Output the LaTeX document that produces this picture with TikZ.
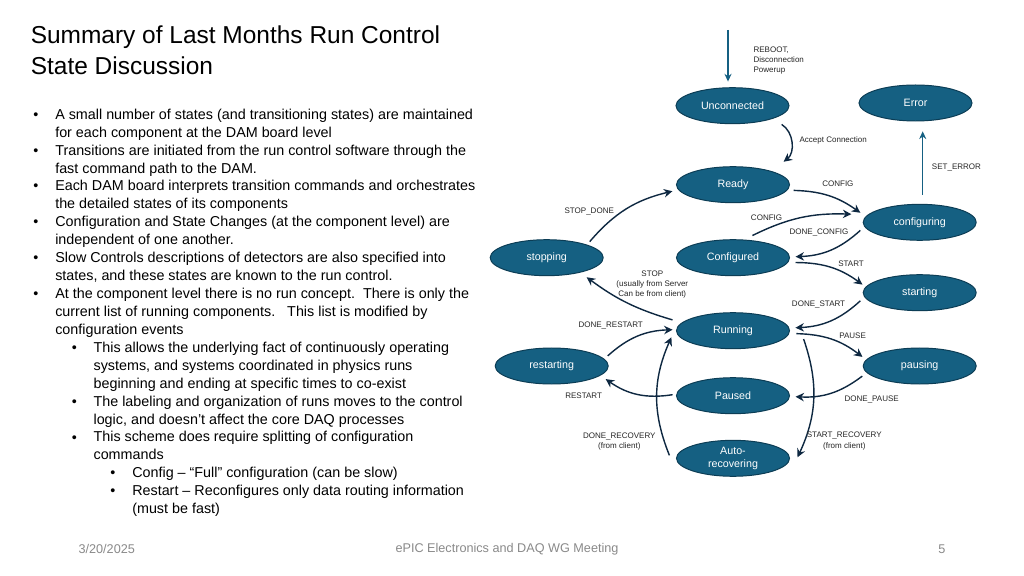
\documentclass[tikz,border=0pt]{standalone}
\usepackage{fontspec}
\setmainfont{Liberation Sans}
\usepackage{tikz}
\usetikzlibrary{positioning}
\usetikzlibrary{arrows.meta}
\usetikzlibrary{shapes.geometric}

\definecolor{statefill}{HTML}{156082}
\definecolor{stateedge}{HTML}{0C3D55}
\definecolor{transdark}{HTML}{0E2841}
\definecolor{footgray}{HTML}{8A8A8A}

\tikzset{
  stnode/.style={ellipse, draw=stateedge, fill=statefill, line width=0.7pt,
    minimum width=2.825cm, minimum height=0.9cm, inner sep=0pt, text=white,
    font=\fontsize{7.6}{8.9}\selectfont, align=center},
  trans/.style={draw=transdark, line width=1pt, -{Stealth[length=6pt,width=6pt]}},
  feed/.style={draw=statefill, line width=1pt, -{Stealth[length=5.5pt,width=5pt]}},
  tlabel/.style={font=\fontsize{5.7}{7.25}\selectfont, inner sep=0pt, text=black!85, align=center},
  bodytxt/.style={font=\fontsize{10.2}{12.75}\selectfont, inner sep=0pt, anchor=base west, align=left},
  bullet/.style={font=\fontsize{10.2}{12.75}\selectfont, inner sep=0pt, anchor=base west},
  foot/.style={font=\fontsize{9}{11}\selectfont, text=footgray, inner sep=0pt}
}

\begin{document}
\begin{tikzpicture}[x=0.025cm, y=0.025cm]  % one unit = one pixel of the slide
    \path[use as bounding box, fill=white] (0,0) rectangle (1024,-576);

    % Title (placed at the baseline of its last line)
    \node[font=\fontsize{17.4}{21.7}\selectfont, inner sep=0pt, anchor=base west, align=left]
        (title) at (30.5,-74.3) {Summary of Last Months Run Control\\State Discussion};

    % Bullet text (each block placed at the baseline of its last line)
    \node[bullet] (d1) at (33,-119.3) {•};
    \node[bodytxt] (b1) at (55,-137.2) {A small number of states (and transitioning states) are maintained\\for each component at the DAM board level};
    \node[bullet] (d2) at (33,-155.2) {•};
    \node[bodytxt] (b2) at (55,-173.1) {Transitions are initiated from the run control software through the\\fast command path to the DAM.};
    \node[bullet] (d3) at (33,-191.0) {•};
    \node[bodytxt] (b3) at (55,-208.9) {Each DAM board interprets transition commands and orchestrates\\the detailed states of its components};
    \node[bullet] (d4) at (33,-226.9) {•};
    \node[bodytxt] (b4) at (55,-244.8) {Configuration and State Changes (at the component level) are\\independent of one another.};
    \node[bullet] (d5) at (33,-262.7) {•};
    \node[bodytxt] (b5) at (55,-280.6) {Slow Controls descriptions of detectors are also specified into\\states, and these states are known to the run control.};
    \node[bullet] (d6) at (33,-298.6) {•};
    \node[bodytxt] (b6) at (55,-334.5) {At the component level there is no run concept.\ \ There is only the\\current list of running components.\ \ \ This list is modified by\\configuration events};
    \node[bullet] (d7) at (71.7,-352.4) {•};
    \node[bodytxt] (b7) at (93.3,-388.3) {This allows the underlying fact of continuously operating\\systems, and systems coordinated in physics runs\\beginning and ending at specific times to co-exist};
    \node[bullet] (d8) at (71.7,-406.2) {•};
    \node[bodytxt] (b8) at (93.3,-424.1) {The labeling and organization of runs moves to the control\\logic, and doesn’t affect the core DAQ processes};
    \node[bullet] (d9) at (71.7,-442.0) {•};
    \node[bodytxt] (b9) at (93.3,-459.9) {This scheme does require splitting of configuration\\commands};
    \node[bullet] (d10) at (110,-477.9) {•};
    \node[bodytxt] (b10) at (132,-477.9) {Config – “Full” configuration (can be slow)};
    \node[bullet] (d11) at (110,-495.8) {•};
    \node[bodytxt] (b11) at (132,-513.7) {Restart – Reconfigures only data routing information\\(must be fast)};

    % States
    \node[stnode] (unconnected) at (732.5,-105.7) {Unconnected};
    \node[stnode] (error) at (915.5,-103) {Error};
    \node[stnode] (ready) at (733,-184.7) {Ready};
    \node[stnode] (configuring) at (919.7,-222.3) {configuring};
    \node[stnode] (stopping) at (546.7,-257.7) {stopping};
    \node[stnode] (configured) at (733,-257.7) {Configured};
    \node[stnode] (starting) at (919.7,-292.7) {starting};
    \node[stnode] (running) at (733,-330.7) {Running};
    \node[stnode] (restarting) at (551.7,-366) {restarting};
    \node[stnode] (pausing) at (919.7,-366) {pausing};
    \node[stnode] (paused) at (733,-395.7) {Paused};
    \node[stnode] (autorec) at (733,-458.3) {Auto-\\recovering};

    % Free ends of the straight arrows
    \coordinate (reboot) at (728,-30);
    \coordinate (seterr) at (922.7,-195);

    % Straight arrows
    \draw[feed, shorten >=4pt] (reboot) -- (reboot |- unconnected.north);
    \draw[feed, shorten >=7pt] (seterr) -- (seterr |- error.south);

    % Transitions
    \draw[trans] ([xshift=8pt,yshift=-3.5pt]unconnected.-20) to[bend left=55] ([xshift=9pt,yshift=6.5pt]ready.20);
    \draw[trans] ([xshift=4.5pt]ready.-6) to[bend left=17] ([xshift=-5.8pt,yshift=1pt]configuring.171);
    \draw[trans] ([xshift=2.8pt,yshift=3.1pt]configured.49) to[bend left=14] ([xshift=-12.2pt]configuring.171);
    \draw[trans] ([xshift=-5.8pt]configuring.189) to[bend left=20] ([xshift=4pt]configured.1);
    \draw[trans] ([xshift=5.3pt]configured.-5) to[bend left=18] ([xshift=-4.3pt]starting.171);
    \draw[trans] ([xshift=-5.8pt]starting.189) to[bend left=20] ([xshift=4.4pt]running.3);
    \draw[trans] ([xshift=5.1pt]running.-3) to[bend left=18] ([xshift=-4.3pt,yshift=0.7pt]pausing.171);
    \draw[trans] ([xshift=-5.2pt,yshift=-0.9pt]pausing.190) to[bend left=20] ([xshift=4pt]paused.-1);
    \draw[trans] ([xshift=13pt,yshift=-0.7pt]running.-8) to[bend left=22] ([xshift=5.4pt]autorec.1);
    \draw[trans] ([xshift=-5.2pt]autorec.177) to[bend left=23] ([xshift=-5.9pt]running.187);
    \draw[trans] ([xshift=-2.5pt]paused.179) to[bend left=22] ([xshift=4.5pt,yshift=-2.1pt]restarting.-12);
    \draw[trans] ([xshift=4.2pt,yshift=0.9pt]restarting.10) to[bend left=20] ([xshift=-2.5pt]running.179);
    \draw[trans] ([xshift=-7.4pt,yshift=1.4pt]running.170) to[bend left=10] ([xshift=5.3pt,yshift=-3.1pt]stopping.-25);
    \draw[trans] ([xshift=3.6pt,yshift=1.6pt]stopping.20) to[bend left=18] ([xshift=-5.2pt]ready.187);

    % Transition labels
    \node[tlabel, anchor=west, align=left] (lreboot) at (753.3,-60.7) {REBOOT,\\Disconnection\\Powerup};
    \node[tlabel, anchor=west] (laccept) at (799.3,-140) {Accept Connection};
    \node[tlabel, anchor=west] (lseterr) at (931.7,-167.3) {SET\_ERROR};
    \node[tlabel, anchor=west] (lconfig) at (822,-183.7) {CONFIG};
    \node[tlabel, anchor=west] (lreconfig) at (750.7,-217.7) {CONFIG};
    \node[tlabel, anchor=west] (ldoneconfig) at (789.3,-232) {DONE\_CONFIG};
    \node[tlabel, anchor=west] (lstart) at (838,-263.3) {START};
    \node[tlabel, anchor=west] (ldonestart) at (791.7,-304) {DONE\_START};
    \node[tlabel, anchor=west] (lpause) at (839,-335.7) {PAUSE};
    \node[tlabel, anchor=west] (ldonepause) at (844.3,-399.3) {DONE\_PAUSE};
    \node[tlabel] (lstartrec) at (844.3,-441) {START\_RECOVERY\\(from client)};
    \node[tlabel, anchor=west] (lstopdone) at (564.3,-211.3) {STOP\_DONE};
    \node[tlabel] (lstop) at (652.3,-284.8) {STOP\\(usually from Server\\Can be from client)};
    \node[tlabel, anchor=west] (ldonerestart) at (578.3,-325) {DONE\_RESTART};
    \node[tlabel, anchor=west] (lrestart) at (565,-396) {RESTART};
    \node[tlabel] (ldonerec) at (619.3,-441.3) {DONE\_RECOVERY\\(from client)};

    % Footer
    \node[foot, anchor=west] (fdate) at (78.3,-549) {3/20/2025};
    \node[foot] (fmeeting) at (507,-549) {ePIC Electronics and DAQ WG Meeting};
    \node[foot] (fpage) at (942,-549) {5};
\end{tikzpicture}
\end{document}
